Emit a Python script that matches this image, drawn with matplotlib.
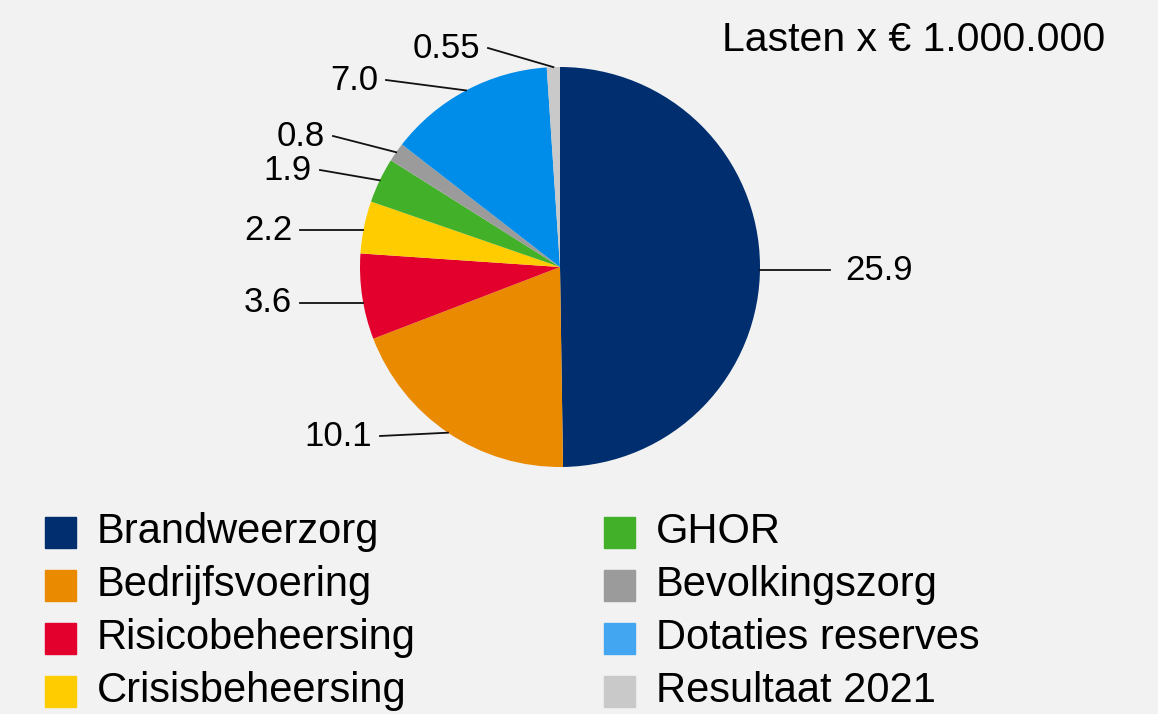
import matplotlib.pyplot as plt
from matplotlib.patches import Rectangle
import numpy as np

categories = ['Brandweerzorg', 'Bedrijfsvoering', 'Risicobeheersing', 'Crisisbeheersing',
              'GHOR', 'Bevolkingszorg', 'Dotaties reserves', 'Resultaat 2021']
values = [25.9, 10.1, 3.6, 2.2, 1.9, 0.8, 7.0, 0.55]
value_labels = ['25.9', '10.1', '3.6', '2.2', '1.9', '0.8', '7.0', '0.55']

colors = ['#002E6E', '#EA8A00', '#E4002C', '#FFCC00', '#43B02A', '#9B9B9B', '#008CE9', '#C9C9C9']
legend_colors = ['#002E6E', '#EA8A00', '#E4002C', '#FFCC00', '#43B02A', '#9B9B9B', '#42A6F0', '#C9C9C9']

# outer end of each leader line (pixels), text sits just beyond it
label_px = [(830, 270), (380, 436), (300, 303), (300, 230), (320, 170), (333, 136), (386, 80), (488, 48)]
flat_line = [True, False, True, True, False, False, False, False]

bg = '#F2F2F2'
W, H = 1158, 714
plt.rcParams['font.family'] = ['Liberation Sans', 'DejaVu Sans']

fig = plt.figure(figsize=(W / 100, H / 100), dpi=100, facecolor=bg)
cx, cy, r = 560, 267, 200
ax = fig.add_axes([(cx - r) / W, (H - cy - r) / H, 2 * r / W, 2 * r / H])
ax.set_facecolor(bg)
wedges, _ = ax.pie(values, colors=colors, startangle=90, counterclock=False, radius=1,
                   wedgeprops=dict(linewidth=0))
ax.set_xlim(-1, 1)
ax.set_ylim(-1, 1)
ax.set_aspect('equal')
ax.axis('off')

for w, lab, (px, py), flat in zip(wedges, value_labels, label_px, flat_line):
    lx, ly = (px - cx) / r, (cy - py) / r
    if flat:
        ey = ly
        ex = np.sign(lx) * np.sqrt(1 - ly ** 2)
    else:
        ang = np.deg2rad((w.theta1 + w.theta2) / 2)
        ex, ey = np.cos(ang), np.sin(ang)
    ax.plot([ex, lx], [ey, ly], color='#111111', lw=1.3, clip_on=False)
    if lx > 0:
        ax.text(lx + 0.075, ly, lab, ha='left', va='center', fontsize=25, clip_on=False)
    else:
        ax.text(lx - 0.04, ly, lab, ha='right', va='center', fontsize=25, clip_on=False)

fig.text(1105 / W, 1 - 40 / H, 'Lasten x € 1.000.000', ha='right', va='center', fontsize=29.5)

for i, (name, c) in enumerate(zip(categories, legend_colors)):
    col, row = i // 4, i % 4
    x0 = 45 if col == 0 else 604
    yc = 532 + row * 53
    fig.patches.append(Rectangle((x0 / W, 1 - (yc + 15.5) / H), 31 / W, 31 / H,
                                 transform=fig.transFigure, color=c))
    fig.text((x0 + 52) / W, 1 - yc / H, name, ha='left', va='center', fontsize=30)

fig.savefig('out.png', dpi=100, facecolor=bg)
